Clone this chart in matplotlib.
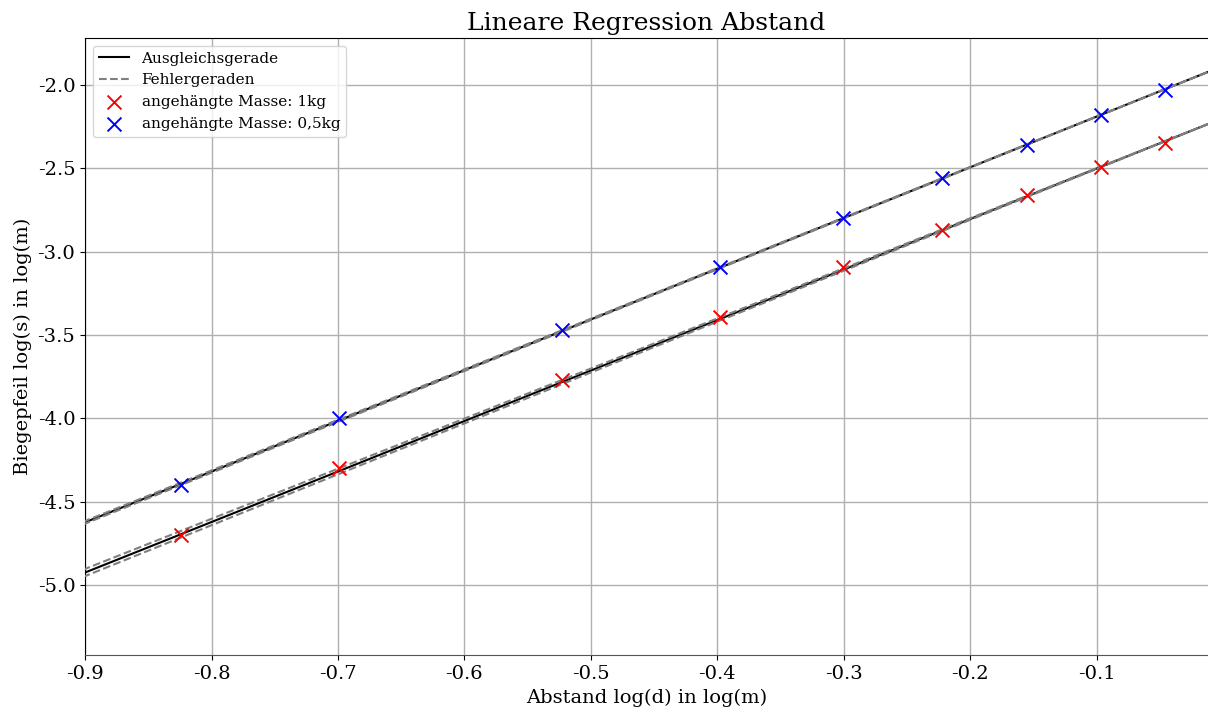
import numpy as np
import matplotlib
matplotlib.use("Agg")
import matplotlib.pyplot as plt
from matplotlib.lines import Line2D

# Data
x_log_d = [-0.824, -0.699, -0.523, -0.398, -0.301, -0.222, -0.155, -0.097, -0.046]
y_1kg = [-4.70, -4.30, -3.77, -3.39, -3.09, -2.87, -2.66, -2.49, -2.35]
y_05kg = [-4.40, -4.00, -3.47, -3.09, -2.80, -2.56, -2.36, -2.18, -2.03]

# Fit parameters (slope, intercept, slope error)
fit_1kg = (3.03, -2.198, 0.024)
fit_05kg = (3.043, -1.885, 0.009)

plt.rcParams['font.family'] = ['DejaVu Serif']
plt.rcParams['axes.unicode_minus'] = False

fig = plt.figure(figsize=(12.08, 7.13), dpi=100)
ax = fig.add_axes([0.0704, 0.0813, 0.9296, 0.8654])

xlim = (-0.9, -0.012)
xs = np.linspace(xlim[0] - 0.01, xlim[1] + 0.01, 50)

for (m, b, dm) in (fit_1kg, fit_05kg):
    ax.plot(xs, m * xs + b, color='black', lw=1.5, zorder=3)
    ax.plot(xs, (m + dm) * xs + b, color='gray', ls='--', lw=1.5, zorder=3)
    ax.plot(xs, (m - dm) * xs + b, color='gray', ls='--', lw=1.5, zorder=3)

s1 = ax.scatter(x_log_d, y_1kg, marker='x', color='red', s=100, lw=1.4, zorder=4)
s2 = ax.scatter(x_log_d, y_05kg, marker='x', color='blue', s=100, lw=1.4, zorder=4)

h1 = Line2D([], [], color='black', lw=1.5)
h2 = Line2D([], [], color='gray', ls='--', lw=1.5)
ax.legend([h1, h2, s1, s2],
          ['Ausgleichsgerade', 'Fehlergeraden', 'angehängte Masse: 1kg', 'angehängte Masse: 0,5kg'],
          loc='upper left', fontsize=11)

ax.set_xlim(*xlim)
ax.set_ylim(-5.42, -1.718)
ax.set_xticks([-0.9, -0.8, -0.7, -0.6, -0.5, -0.4, -0.3, -0.2, -0.1])
ax.set_yticks([-5.0, -4.5, -4.0, -3.5, -3.0, -2.5, -2.0])
ax.tick_params(labelsize=14)
ax.grid(True, color='#b0b0b0', lw=1)
ax.set_axisbelow(True)
ax.spines['right'].set_visible(False)
ax.spines['bottom'].set_color('#555555')

ax.set_title('Lineare Regression Abstand', fontsize=18)
ax.set_xlabel('Abstand log(d) in log(m)', fontsize=14)
ax.set_ylabel('Biegepfeil log(s) in log(m)', fontsize=14)

fig.savefig('out.png', dpi=100)
